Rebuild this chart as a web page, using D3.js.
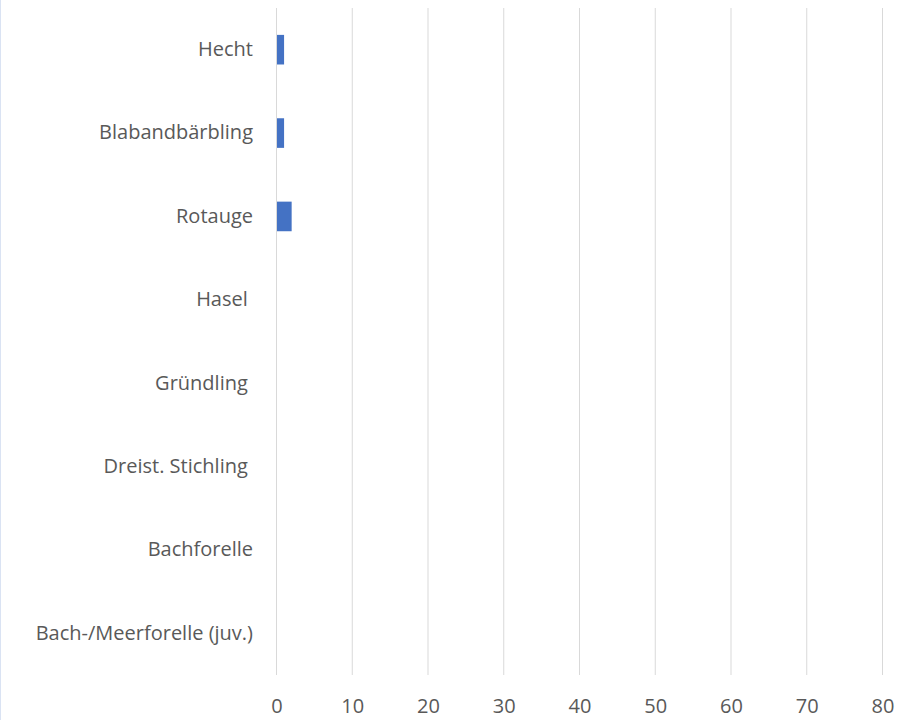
<!DOCTYPE html>
<html>
<head>
<meta charset="utf-8">
<script src="https://cdn.jsdelivr.net/npm/d3@7"></script>
<style>
  html, body { margin: 0; padding: 0; background: #fff; }
  svg { display: block; }
  text { white-space: pre; }
</style>
</head>
<body>
<svg id="chart" width="908" height="720"></svg>
<script>
const categories = ["Hecht", "Blabandbärbling", "Rotauge", "Hasel ", "Gründling ", "Dreist. Stichling ", "Bachforelle", "Bach-/Meerforelle (juv.)"];
const values = [1, 1, 2, 0, 0, 0, 0, 0];
const xTicks = [0, 10, 20, 30, 40, 50, 60, 70, 80];

const data = categories.map((c, i) => ({ name: c, value: values[i] }));

const svg = d3.select("#chart");
const W = 908, H = 720;
const margin = { left: 276.5, right: 25.5, top: 8, bottom: 45 };

svg.append("rect").attr("x", 0).attr("y", 0).attr("width", W).attr("height", H).attr("fill", "#fff");
svg.append("line").attr("x1", 0.5).attr("x2", 0.5).attr("y1", 0).attr("y2", H)
  .attr("stroke", "#dae3f3").attr("stroke-width", 1);

const x = d3.scaleLinear().domain([0, 80]).range([margin.left, W - margin.right]);
const y = d3.scaleBand().domain(categories).range([margin.top, H - margin.bottom])
  .paddingInner(0.645).paddingOuter(0.3225);

const font = "Open Sans, Calibri, sans-serif";
const fs = 20;

// gridlines
svg.append("g").selectAll("line").data(xTicks).join("line")
  .attr("x1", d => x(d)).attr("x2", d => x(d))
  .attr("y1", margin.top).attr("y2", H - margin.bottom)
  .attr("stroke", "#d9d9d9").attr("stroke-width", 1);

// bars
svg.append("g").selectAll("rect").data(data).join("rect")
  .attr("x", x(0) + 0.5)
  .attr("y", d => y(d.name))
  .attr("width", d => Math.max(0, x(d.value) - x(0) - 0.5))
  .attr("height", y.bandwidth())
  .attr("fill", "#4472c4");

// x axis
const xAxis = d3.axisBottom(x).tickValues(xTicks).tickSize(0).tickPadding(0);
const gx = svg.append("g").attr("transform", `translate(0,${H - margin.bottom})`).call(xAxis);
gx.select(".domain").remove();
gx.selectAll("text").attr("font-family", font).attr("font-size", fs).attr("fill", "#595959")
  .attr("dy", null).attr("y", 38);

// y axis
const yAxis = d3.axisLeft(y).tickSize(0).tickPadding(23.5);
const gy = svg.append("g").attr("transform", `translate(${margin.left},0)`).call(yAxis);
gy.select(".domain").remove();
gy.selectAll("text").attr("font-family", font).attr("font-size", fs).attr("fill", "#595959");
</script>
</body>
</html>
